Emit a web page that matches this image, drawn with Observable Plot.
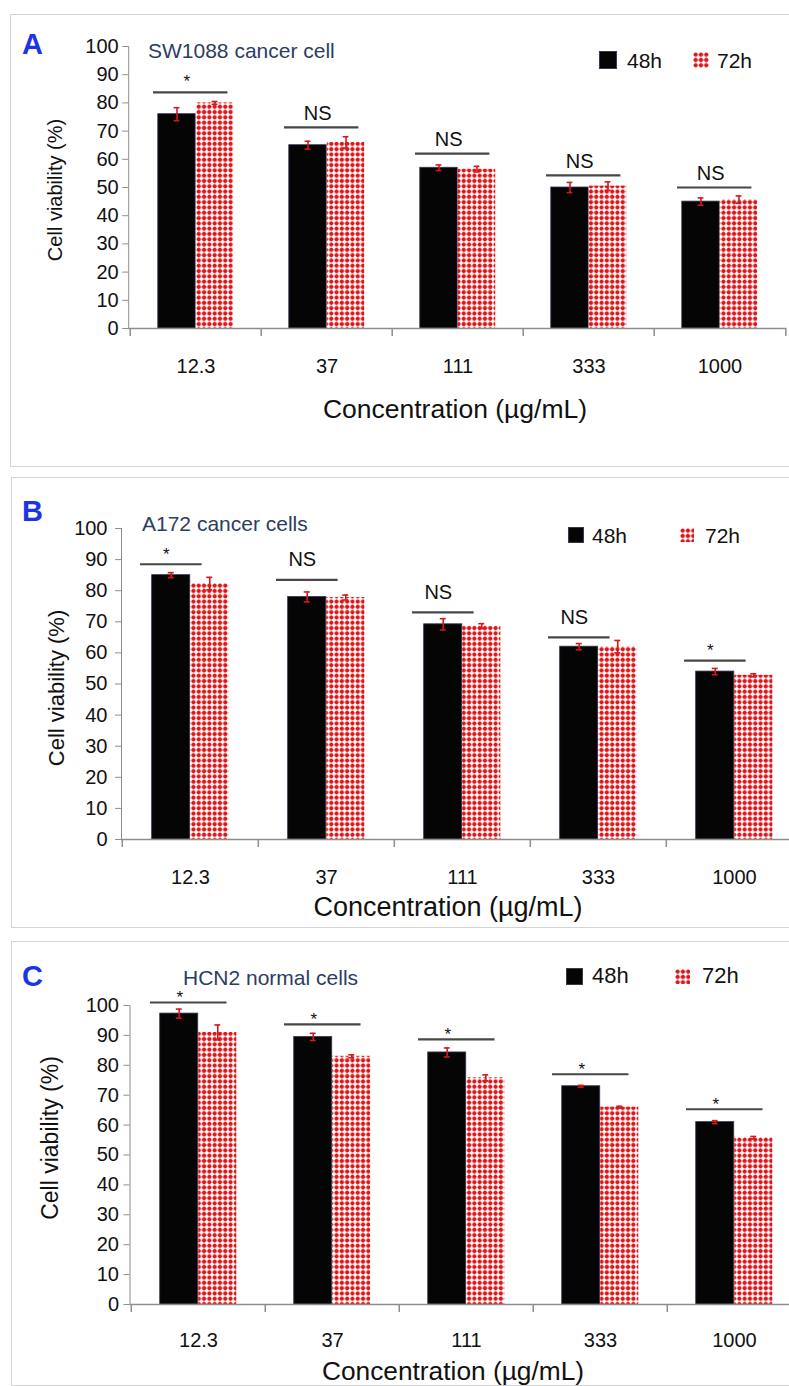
<!DOCTYPE html>
<html><head><meta charset="utf-8">
<script src="https://cdn.jsdelivr.net/npm/d3@7"></script>
<script src="https://cdn.jsdelivr.net/npm/@observablehq/plot@0.6"></script>
<style>
html,body{margin:0;padding:0;width:789px;height:1386px;overflow:hidden;background:#fff;font-family:"Liberation Sans",Arial,sans-serif;}
#root{position:relative;width:789px;height:1386px;overflow:hidden;}
.panel{position:absolute;border:1.5px solid #d4d4d4;box-sizing:border-box;}
.abs{position:absolute;white-space:nowrap;line-height:1;}
.plotwrap{position:absolute;left:0;}
.plotwrap svg text{fill:#111;}
</style></head>
<body><div id="root"></div>
<svg width="0" height="0" style="position:absolute;left:0;top:0">
<defs>
<pattern id="dots" width="5.3" height="5.3" patternUnits="userSpaceOnUse">
<rect width="5.3" height="5.3" fill="#fff"/>
<path d="M0 2.65H5.3M2.65 0V5.3" stroke="#ec7070" stroke-width="0.9"/>
<circle cx="2.65" cy="2.65" r="2.05" fill="#e01418"/>
</pattern>
</defs></svg>
<script>
// ---------- data ----------
const categories = ["12.3", "37", "111", "333", "1000"];
const seriesNames = ["48h", "72h"];
const yTicks = [0, 10, 20, 30, 40, 50, 60, 70, 80, 90, 100];
const xTitle = "Concentration (µg/mL)";
const yTitle = "Cell viability (%)";
const panelLetters = ["A", "B", "C"];
const panelTitles = ["SW1088 cancer cell", "A172 cancer cells", "HCN2 normal cells"];

const A_48h = [76, 65, 57, 50, 45];
const A_72h = [80, 66, 56.5, 50.5, 45.7];
const A_48h_err = [2.3, 1.4, 1, 1.8, 1.3];
const A_72h_err = [0.5, 2, 1, 1.5, 1.3];
const A_sigY = [83.7, 71.3, 62, 54.3, 50];
const A_sigLabel = ["*", "NS", "NS", "NS", "NS"];

const B_48h = [85, 78, 69.2, 62, 54];
const B_72h = [82.3, 77.8, 68.6, 62, 52.8];
const B_48h_err = [0.8, 1.6, 1.8, 1, 1];
const B_72h_err = [2, 0.8, 0.8, 2, 0.5];
const B_sigY = [88.5, 83.5, 73, 65, 57.5];
const B_sigLabel = ["*", "NS", "NS", "NS", "*"];

const C_48h = [97.3, 89.5, 84.3, 73, 61];
const C_72h = [91, 83, 75.8, 66, 55.8];
const C_48h_err = [1.5, 1.2, 1.5, 0.3, 0.5];
const C_72h_err = [2.5, 0.5, 1, 0.3, 0.4];
const C_sigY = [101, 93.7, 88.7, 77, 65.3];
const C_sigLabel = ["*", "*", "*", "*", "*"];

// ---------- layout ----------
const root = document.getElementById("root");
function addDiv(cls, css, text) {
  const d = document.createElement("div");
  d.className = cls;
  Object.assign(d.style, css);
  if (text !== undefined) d.textContent = text;
  root.appendChild(d);
  return d;
}

function drawPanel(cfg, d48, d72, e48, e72, sigY, sigLab, idx) {
  addDiv("panel", {left: cfg.boxLeft + "px", top: cfg.top + "px", width: (800 - cfg.boxLeft) + "px", height: cfg.height + "px"});
  const bw = cfg.bw, G = cfg.frac * bw, s = G / 2, o = (bw - G) / 2;
  const width = cfg.width;
  const marginRight = width - cfg.marginLeft - 5 * bw;
  const r48 = categories.map((c, i) => ({cat: c, series: seriesNames[0], v: d48[i], e: e48[i]}));
  const r72 = categories.map((c, i) => ({cat: c, series: seriesNames[1], v: d72[i], e: e72[i]}));
  const sig = categories.map((c, i) => ({cat: c, y: sigY[i], label: sigLab[i]}));
  const cap = 3.2;
  const sigDx = cfg.sigLeft + cfg.sigWidth / 2 - bw / 2 + cfg.sigShift;
  const axisGrey = "#8e8e8e";
  const errRed = "#d3191c";
  const errMarks = (rows, dxc) => [
    Plot.ruleX(rows, {x: "cat", y1: d => d.v - d.e, y2: d => d.v + d.e, dx: dxc, stroke: errRed, strokeWidth: 1.6}),
    Plot.tickY(rows, {x: "cat", y: d => d.v - d.e, insetLeft: bw / 2 + dxc - cap, insetRight: bw / 2 - dxc - cap, stroke: errRed, strokeWidth: 1.6}),
    Plot.tickY(rows, {x: "cat", y: d => d.v + d.e, insetLeft: bw / 2 + dxc - cap, insetRight: bw / 2 - dxc - cap, stroke: errRed, strokeWidth: 1.6})
  ];
  const chart = Plot.plot({
    width, height: cfg.height,
    marginTop: cfg.marginTop, marginBottom: cfg.marginBottom,
    marginLeft: cfg.marginLeft, marginRight,
    style: {fontFamily: "Liberation Sans, Arial, sans-serif", fontSize: cfg.tickFont + "px", color: axisGrey, background: "transparent", overflow: "visible", maxWidth: "none"},
    x: {domain: categories, padding: 0, axis: null},
    y: {domain: [0, 100], ticks: yTicks, tickSize: 6, tickPadding: cfg.tickPadding, line: true, label: null, tickFormat: d => String(d)},
    marks: [
      Plot.barY(r48, {x: "cat", y: "v", fill: "#050505", stroke: "#3d3655", strokeWidth: 0.8, insetLeft: o, insetRight: bw - o - s}),
      Plot.barY(r72, {x: "cat", y: "v", fill: "url(#dots)", insetLeft: o + s, insetRight: o}),
      Plot.ruleY([0], {stroke: axisGrey, strokeWidth: 1.5}),
      Plot.ruleX(categories, {x: d => d, dx: -bw / 2, y1: 0, y2: 0, insetBottom: -8, stroke: axisGrey, strokeWidth: 1.5}),
      Plot.ruleX(categories.slice(-1), {x: d => d, dx: bw / 2, y1: 0, y2: 0, insetBottom: -8, stroke: axisGrey, strokeWidth: 1.5}),
      ...errMarks(r48, -s / 2),
      ...errMarks(r72, s / 2),
      Plot.tickY(sig, {x: "cat", y: "y", insetLeft: cfg.sigLeft, insetRight: bw - cfg.sigLeft - cfg.sigWidth, stroke: "#474747", strokeWidth: 2.2}),
      Plot.text(sig.filter(d => d.label === "*"), {x: "cat", y: "y", text: "label", dx: sigDx, dy: cfg.starDy, fontSize: 17, fill: "#111"}),
      Plot.text(sig.filter(d => d.label === "NS"), {x: "cat", y: "y", text: "label", dx: sigDx, dy: cfg.nsDy, fontSize: 20, fill: "#111"}),
      Plot.text(categories, {x: d => d, y: 0, text: d => d, dy: cfg.xLabelDy, fontSize: cfg.xFont, fill: "#111"})
    ]
  });
  const wrap = addDiv("plotwrap", {top: cfg.top + "px", width: width + "px", height: cfg.height + "px"});
  wrap.appendChild(chart);

  // panel letter, title
  addDiv("abs", {left: "22px", top: cfg.letterY + "px", transform: "translateY(-50%)", fontSize: "29px", fontWeight: "bold", color: "#1c34e6"}, panelLetters[idx]);
  addDiv("abs", {left: cfg.titleX + "px", top: cfg.titleY + "px", transform: "translateY(-50%)", fontSize: cfg.titleFont + "px", color: "#2d3d60"}, panelTitles[idx]);
  // axis titles
  addDiv("abs", {left: cfg.xTitleX + "px", top: cfg.xTitleY + "px", transform: "translate(-50%,-50%)", fontSize: cfg.xTitleFont + "px", color: "#111"}, xTitle);
  addDiv("abs", {left: cfg.yTitleX + "px", top: cfg.yTitleY + "px", transform: "translate(-50%,-50%) rotate(-90deg)", fontSize: cfg.yTitleFont + "px", color: "#111"}, yTitle);
  // legend
  const L = cfg.legend;
  addDiv("abs", {left: L.sq1 + "px", top: (L.cy - L.size / 2) + "px", width: L.size + "px", height: L.size + "px", background: "#050505", boxShadow: "0 0 0 1px #3d3655"});
  addDiv("abs", {left: L.t1 + "px", top: L.cy + "px", transform: "translateY(-50%)", fontSize: L.font + "px", color: "#111"}, seriesNames[0]);
  const sw = addDiv("abs", {left: L.sq2 + "px", top: (L.cy - L.size / 2) + "px", width: L.size + "px", height: L.size + "px"});
  sw.innerHTML = `<svg width="${L.size}" height="${L.size}"><rect width="${L.size}" height="${L.size}" fill="url(#dots)"/></svg>`;
  addDiv("abs", {left: L.t2 + "px", top: L.cy + "px", transform: "translateY(-50%)", fontSize: L.font + "px", color: "#111"}, seriesNames[1]);
}

const cfgA = {boxLeft: 10, top: 14, height: 453, width: 789, marginTop: 32, marginBottom: 139, marginLeft: 128.2, bw: 131.6, frac: 0.578,
  sigLeft: 23, sigWidth: 75, sigShift: -4, starDy: -11, nsDy: -14, tickFont: 20, tickPadding: 4, xLabelDy: 38, xFont: 20,
  letterY: 44, titleX: 148, titleY: 50, titleFont: 21, xTitleX: 455, xTitleY: 409, xTitleFont: 26.5, yTitleX: 55, yTitleY: 190, yTitleFont: 20,
  legend: {sq1: 600, sq2: 693, t1: 627, t2: 717, cy: 60, size: 16, font: 21}};
const cfgB = {boxLeft: 11, top: 477, height: 451, width: 805, marginTop: 51, marginBottom: 89, marginLeft: 121, bw: 136.4, frac: 0.565,
  sigLeft: 18, sigWidth: 62, sigShift: -5, starDy: -10, nsDy: -20, tickFont: 20, tickPadding: 8, xLabelDy: 38, xFont: 20,
  letterY: 511, titleX: 142, titleY: 523, titleFont: 21, xTitleX: 448, xTitleY: 907, xTitleFont: 27, yTitleX: 57, yTitleY: 688, yTitleFont: 22,
  legend: {sq1: 569, sq2: 680, t1: 592, t2: 705, cy: 535, size: 14, font: 21}};
const cfgC = {boxLeft: 11, top: 941, height: 445, width: 805, marginTop: 64, marginBottom: 82, marginLeft: 129.5, bw: 134.5, frac: 0.573,
  sigLeft: 19, sigWidth: 77, sigShift: -9, starDy: -5, nsDy: -16, tickFont: 20, tickPadding: 5, xLabelDy: 36, xFont: 20,
  letterY: 976, titleX: 183, titleY: 977, titleFont: 21, xTitleX: 453, xTitleY: 1371, xTitleFont: 26.3, yTitleX: 50, yTitleY: 1138, yTitleFont: 23,
  legend: {sq1: 567, sq2: 675, t1: 592, t2: 702, cy: 976, size: 15, font: 22}};

drawPanel(cfgA, A_48h, A_72h, A_48h_err, A_72h_err, A_sigY, A_sigLabel, 0);
drawPanel(cfgB, B_48h, B_72h, B_48h_err, B_72h_err, B_sigY, B_sigLabel, 1);
drawPanel(cfgC, C_48h, C_72h, C_48h_err, C_72h_err, C_sigY, C_sigLabel, 2);
</script>
</body></html>
